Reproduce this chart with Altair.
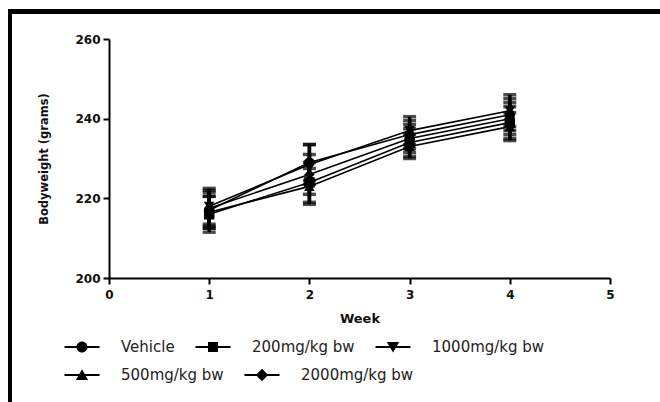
import altair as alt
import pandas as pd

weeks = [1, 2, 3, 4]
series_names = ["Vehicle", "200mg/kg bw", "1000mg/kg bw", "500mg/kg bw", "2000mg/kg bw"]
legend_row1 = ["Vehicle", "200mg/kg bw", "1000mg/kg bw"]
legend_row2 = ["500mg/kg bw", "2000mg/kg bw"]

vehicle = [217.0, 229.0, 236.0, 241.0]
dose200 = [216.0, 224.0, 234.0, 239.0]
dose1000 = [218.0, 228.5, 237.0, 242.0]
dose500 = [216.5, 223.0, 233.0, 238.0]
dose2000 = [217.5, 226.0, 235.0, 240.0]

err_vehicle = [4.5, 4.5, 3.5, 4.0]
err_200 = [4.5, 5.0, 3.5, 4.0]
err_1000 = [4.5, 5.0, 3.5, 4.0]
err_500 = [4.0, 4.5, 3.0, 3.5]
err_2000 = [4.5, 5.0, 3.5, 4.0]

point_shapes = ["circle", "square", "triangle-down", "triangle-up", "diamond"]

bar = "M-1.75,-0.09H1.75V0.09H-1.75Z"
legend_paths_row1 = [
    bar + "M-0.55,0A0.55,0.55 0 1,1 0.55,0A0.55,0.55 0 1,1 -0.55,0Z",
    bar + "M-0.5,-0.5H0.5V0.5H-0.5Z",
    bar + "M-0.62,-0.5H0.62L0,0.55Z",
]
legend_paths_row2 = [
    bar + "M-0.62,0.5L0,-0.58L0.62,0.5Z",
    bar + "M0,-0.62L0.62,0L0,0.62L-0.62,0Z",
]

means = [vehicle, dose200, dose1000, dose500, dose2000]
errs = [err_vehicle, err_200, err_1000, err_500, err_2000]

rows = []
for name, m, e in zip(series_names, means, errs):
    for w, v, s in zip(weeks, m, e):
        rows.append({"week": w, "series": name, "value": v, "lo": v - s, "hi": v + s})
df = pd.DataFrame(rows)

x_enc = alt.X("week:Q", scale=alt.Scale(domain=[0, 5], nice=False),
              axis=alt.Axis(values=[0, 1, 2, 3, 4, 5], format="d", title="Week",
                            labelFlush=False))
y_scale = alt.Scale(domain=[200, 260], nice=False, zero=False)

base = alt.Chart(df)

lines = base.mark_line(color="black", strokeWidth=1.6).encode(
    x=x_enc,
    y=alt.Y("value:Q", scale=y_scale,
            axis=alt.Axis(values=[200, 220, 240, 260], title="Bodyweight (grams)",
                          labelFlush=False)),
    detail="series:N",
)

rules = base.mark_rule(color="black", strokeWidth=3.5).encode(
    x="week:Q", y=alt.Y("lo:Q", scale=y_scale), y2="hi:Q"
)
caps_hi = base.mark_tick(color="black", orient="horizontal", size=13, thickness=3.5).encode(
    x="week:Q", y=alt.Y("hi:Q", scale=y_scale)
)
caps_lo = base.mark_tick(color="black", orient="horizontal", size=13, thickness=3.5).encode(
    x="week:Q", y=alt.Y("lo:Q", scale=y_scale)
)

points = base.mark_point(filled=True, color="black", opacity=1, size=110).encode(
    x="week:Q",
    y=alt.Y("value:Q", scale=y_scale),
    shape=alt.Shape("series:N", scale=alt.Scale(domain=series_names, range=point_shapes),
                    legend=None),
)


def legend_layer(domain, paths, lx, ly):
    return base.transform_filter("datum.week > 100").mark_point(
        filled=True, color="black", size=400, opacity=1
    ).encode(
        x="week:Q",
        y=alt.Y("value:Q", scale=y_scale),
        shape=alt.Shape(
            "series:N",
            scale=alt.Scale(domain=domain, range=paths),
            legend=alt.Legend(
                title=None, orient="none", legendX=lx, legendY=ly,
                direction="horizontal",
                symbolSize=400, symbolFillColor="black", symbolStrokeColor="black",
                symbolStrokeWidth=0, symbolOpacity=1,
                labelFont="DejaVu Sans", labelFontSize=15, labelColor="#222",
                labelOffset=29, columnPadding=20,
            ),
        ),
    )


leg1 = legend_layer(legend_row1, legend_paths_row1, -37, 298)
leg2 = legend_layer(legend_row2, legend_paths_row2, -37, 326)

frame_top = alt.Chart(df).mark_rule(color="black", strokeWidth=3.5).encode(
    x=alt.value(-101), x2=alt.value(551), y=alt.value(-27.5)
)
frame_left = alt.Chart(df).mark_rule(color="black", strokeWidth=4).encode(
    x=alt.value(-99), y=alt.value(-29), y2=alt.value(363)
)

chart = alt.layer(
    frame_top, frame_left, lines, rules, caps_hi, caps_lo, points, leg1, leg2
).resolve_scale(shape="independent").properties(
    width=501, height=239,
    autosize=alt.AutoSizeParams(type="none"),
    padding={"left": 109, "top": 39, "right": 50, "bottom": 124},
    background="white",
).configure_view(stroke=None).configure_axis(
    grid=False, domainColor="black", domainWidth=2, tickColor="black", tickWidth=2,
    tickSize=6, labelFont="DejaVu Sans", labelFontWeight="bold", labelFontSize=12,
    labelColor="#111", titleFont="DejaVu Sans", titleColor="#111",
).configure_axisX(
    titleFontWeight="bold", titleFontSize=13, titlePadding=12, labelPadding=5,
).configure_axisY(
    titleFontWeight="bold", titleFontSize=11.5, titlePadding=25, labelPadding=3,
)

chart.save("out.html", embed_options={"renderer": "svg", "actions": False})
